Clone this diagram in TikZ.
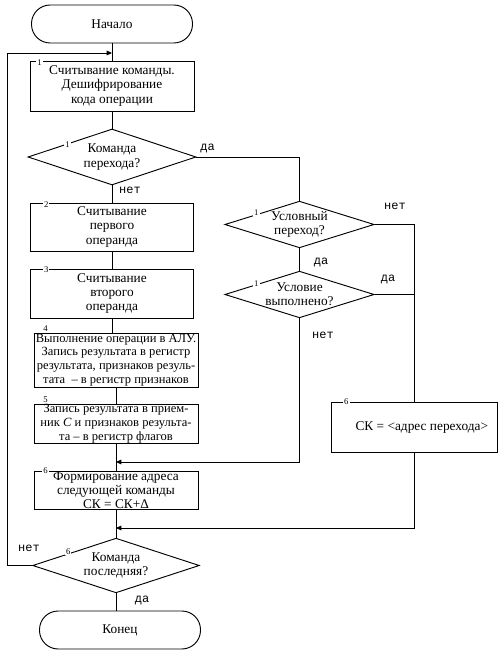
\documentclass[tikz,border=0pt]{standalone}
\usepackage{fontspec}
\setmainfont{Liberation Serif}
\newfontfamily\lblfont{Liberation Mono}
\usetikzlibrary{shapes.geometric,arrows.meta}

\begin{document}
\begin{tikzpicture}[x=0.75pt,y=-0.75pt,line width=0.7pt,
  font=\fontsize{10}{10.6}\selectfont,
  term/.style={draw,rectangle,rounded corners=14pt,minimum width=120.75pt,minimum height=28.5pt},
  proc/.style={draw,rectangle,align=center,inner sep=0pt,minimum width=123pt},
  small/.style={font=\fontsize{9.4}{10.4}\selectfont},
  cond/.style={draw,diamond,aspect=3,align=center,inner sep=0pt,minimum width=125pt,minimum height=42pt},
  num/.style={fill=white,inner sep=0.8pt,font=\fontsize{6.5}{7}\selectfont},
  lbl/.style={inner sep=0pt,font=\lblfont\fontsize{9}{10}\selectfont},
  arr/.style={-{Triangle[length=4pt,width=3.5pt]}}]
\useasboundingbox (0,0) rectangle (502,655);

% main column
\node[term] (start) at (112,24) {Начало};
\node[proc,minimum height=37.5pt] (op1) at (112,86) {Считывание команды.\\Дешифрирование\\кода операции};
\node[cond,minimum width=126pt] (isjmp) at (112,157) {Команда\\перехода?};
\node[proc,minimum width=122pt,minimum height=36pt] (rd1) at (112,227) {Считывание\\первого\\операнда};
\node[proc,minimum width=122pt,minimum height=36.75pt] (rd2) at (112,293.5) {Считывание\\второго\\операнда};
\node[proc,small,minimum height=40.5pt] (alu) at (116,360) {Выполнение операции в АЛУ.\\Запись результата в регистр\\результата, признаков резуль-\\тата \ – в регистр признаков};
\node[proc,small,minimum height=29.25pt] (wr) at (116,423.5) {Запись результата в прием-\\ник \textit{C} и признаков результа-\\та – в регистр флагов};
\node[proc,minimum height=27.75pt] (pc) at (116,490.5) {Формирование адреса\\следующей команды\\СК = СК+Δ};
\node[cond,minimum height=41pt] (islast) at (116,565.5) {Команда\\последняя?};
\node[term] (stop) at (120,630) {Конец};

% jump branch
\node[cond,minimum width=112pt,minimum height=35pt] (iscond) at (299.5,224.5) {Условный\\переход?};
\node[cond,minimum width=112pt,minimum height=35pt] (istrue) at (299.5,294.5) {Условие\\выполнено?};
\node[proc,minimum width=124pt,minimum height=37pt] (jmp) at (414.5,427.5) {\hspace*{11pt}СК = <адрес перехода>};

\coordinate (in0) at (112,53);
\coordinate (in1) at (116,462);
\coordinate (in2) at (116,528);
\coordinate (back) at (7,0);

\draw (start) -- (op1);
\draw (op1) -- (isjmp);
\draw (isjmp) -- (rd1);
\draw (rd1) -- (rd2);
\draw (rd2.south) -- (rd2.south |- alu.north);
\draw (alu) -- (wr);
\draw (wr) -- (pc);
\draw (pc) -- (islast);
\draw (islast.south) -- (islast.south |- stop.north);

\draw (isjmp.east) -| (iscond.north);
\draw (iscond) -- (istrue);
\draw (iscond.east) -| (jmp.north);
\draw (istrue.east) -- (istrue.east -| jmp.north);
\draw[arr] (istrue.south) |- (in1);
\draw[arr] (jmp.south) |- (in2);
\draw[arr] (islast.west) -- (islast.west -| back) |- (in0);

% yes / no
\node[lbl] (y1) at (207.5,148) {да};
\node[lbl] (n1) at (130,190) {нет};
\node[lbl] (n2) at (395,206) {нет};
\node[lbl] (y2) at (321,262) {да};
\node[lbl] (y3) at (388,279) {да};
\node[lbl] (n3) at (323,335) {нет};
\node[lbl] (n4) at (29,548) {нет};
\node[lbl] (y4) at (142,600) {да};

% step numbers
\node[num] at ([shift={(10,2)}]op1.north west) {1};
\node[num] at ([shift={(16,2)}]rd1.north west) {2};
\node[num] at ([shift={(16,1.5)}]rd2.north west) {3};
\node[num] at ([shift={(12,-4)}]alu.north west) {4};
\node[num] at ([shift={(12,-4)}]wr.north west) {5};
\node[num] at ([shift={(12,-1)}]pc.north west) {6};
\node[num] at ([shift={(15,-1)}]jmp.north west) {6};
\node[num] at ([shift={(40,-12)}]isjmp.west) {1};
\node[num] at ([shift={(32,-11.5)}]iscond.west) {1};
\node[num] at ([shift={(32,-10.5)}]istrue.west) {1};
\node[num] at ([shift={(36,-14)}]islast.west) {6};
\end{tikzpicture}
\end{document}
